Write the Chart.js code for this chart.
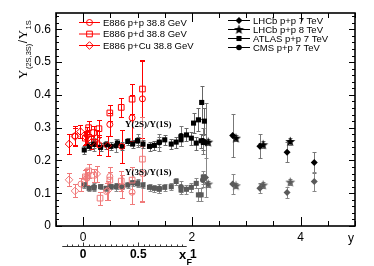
<!DOCTYPE html>
<html lang="en">
<head>
<meta charset="UTF-8">
<title>Upsilon excited-state ratios</title>
<script src="https://cdn.jsdelivr.net/npm/chart.js"></script>
<style>
  body { margin: 0; background: #fff; }
  canvas { display: block; }
</style>
</head>
<body>
<canvas id="ratioChart" width="374" height="266"></canvas>
<script>
// ---- axis ticks
const xTicks = [0, 2, 4];
const yTicks = [0, 0.1, 0.2, 0.3, 0.4, 0.5, 0.6];
const xfTicks = [0, 0.5, 1];
const Y_PER_XF = 2.026;   // rapidity units per x_F unit on the lower axis

// ---- E886 p+p 38.8 GeV (open circles)
const ppX2 = [-0.15, 0.07, 0.29, 0.49, 0.71, 0.90, 1.09];
const pp2S = [0.275, 0.278, 0.248, 0.310, 0.243, 0.330, 0.388];
const pp2SErr = [0.03, 0.025, 0.03, 0.035, 0.05, 0.07, 0.12];
const ppX3 = [-0.04, 0.07, 0.43, 0.49, 0.71, 0.90, 1.09];
const pp3S = [0.128, 0.146, 0.105, 0.151, 0.120, 0.103, 0.160];
const pp3SErr = [0.02, 0.02, 0.025, 0.03, 0.035, 0.035, 0.085];

// ---- E886 p+d 38.8 GeV (open squares)
const pdX2 = [0.04, 0.10, 0.19, 0.29, 0.49, 0.70, 0.90, 1.09];
const pd2S = [0.268, 0.300, 0.285, 0.297, 0.345, 0.362, 0.387, 0.418];
const pd2SErr = [0.02, 0.02, 0.02, 0.025, 0.025, 0.03, 0.045, 0.085];
const pdX3 = [0.04, 0.10, 0.19, 0.31, 0.49, 0.70, 0.90, 1.09];
const pd3S = [0.150, 0.168, 0.155, 0.085, 0.140, 0.137, 0.140, 0.204];
const pd3SErr = [0.02, 0.02, 0.02, 0.02, 0.025, 0.03, 0.04, 0.13];

// ---- E886 p+Cu 38.8 GeV (open diamonds)
const pcX2 = [-0.26, -0.15, -0.05, 0.05, 0.15, 0.25, 0.45];
const pc2S = [0.250, 0.273, 0.288, 0.271, 0.255, 0.268, 0.245];
const pc2SErr = [0.03, 0.025, 0.02, 0.02, 0.02, 0.025, 0.03];
const pcX3 = [-0.26, -0.15, 0.06, 0.25, 0.45];
const pc3S = [0.141, 0.107, 0.150, 0.159, 0.108];
const pc3SErr = [0.02, 0.02, 0.025, 0.025, 0.03];

// ---- LHCb p+p 7 TeV
const lhcb7X = [2.25, 2.75, 3.25, 3.75, 4.25];
const lhcb7_2S = [0.255, 0.276, 0.243, 0.225, 0.194];
const lhcb7_2SErr = [0.12, 0.065, 0.037, 0.03, 0.033];
const lhcb7_3S = [0.148, 0.128, 0.115, 0.102, 0.136];
const lhcb7_3SErr = [0.06, 0.03, 0.015, 0.018, 0.03];

// ---- LHCb p+p 8 TeV
const lhcb8X = [2.30, 2.81, 3.31, 3.81];
const lhcb8_2S = [0.256, 0.268, 0.248, 0.258];
const lhcb8_2SErr = [0.01, 0.01, 0.01, 0.012];
const lhcb8_3S = [0.128, 0.123, 0.125, 0.134];
const lhcb8_3SErr = [0.008, 0.008, 0.008, 0.01];

// ---- ATLAS p+p 7 TeV
const atlasX2 = [0.02, 0.11, 0.20, 0.32, 0.42, 0.51, 0.63, 0.72, 0.82, 0.91, 1.00, 1.10,
                 1.22, 1.31, 1.40, 1.50, 1.62, 1.71, 1.80, 1.90, 1.99, 2.08, 2.17, 2.21,
                 2.03, 2.12, 2.18, 2.23];
const atlas2S = [0.232, 0.243, 0.250, 0.240, 0.248, 0.243, 0.253, 0.243, 0.258, 0.250, 0.260, 0.250,
                 0.243, 0.246, 0.256, 0.263, 0.250, 0.256, 0.263, 0.278, 0.268, 0.253, 0.260, 0.255,
                 0.314, 0.324, 0.377, 0.320];
const atlas2SErr = [0.012, 0.012, 0.012, 0.012, 0.012, 0.012, 0.012, 0.012, 0.012, 0.013, 0.013, 0.013,
                    0.014, 0.014, 0.015, 0.015, 0.016, 0.017, 0.018, 0.02, 0.02, 0.02, 0.022, 0.022,
                    0.03, 0.035, 0.05, 0.04];
const atlasX3 = [0.02, 0.11, 0.20, 0.32, 0.42, 0.51, 0.63, 0.72, 0.82, 0.91, 1.00, 1.10,
                 1.22, 1.31, 1.40, 1.50, 1.62, 1.71, 1.80, 1.90, 1.99, 2.08, 2.12, 2.17, 2.21];
const atlas3S = [0.125, 0.115, 0.117, 0.120, 0.115, 0.120, 0.122, 0.120, 0.125, 0.132, 0.130, 0.125,
                 0.118, 0.115, 0.112, 0.118, 0.120, 0.136, 0.110, 0.112, 0.118, 0.130, 0.095, 0.095, 0.149];
const atlas3SErr = [0.008, 0.008, 0.008, 0.008, 0.008, 0.008, 0.008, 0.008, 0.009, 0.009, 0.009, 0.009,
                    0.01, 0.01, 0.01, 0.01, 0.011, 0.012, 0.012, 0.013, 0.014, 0.015, 0.02, 0.02, 0.02];

// ---- CMS p+p 7 TeV
const cmsX = [0.2, 0.6, 1.0, 1.4, 1.8, 2.2];
const cms2S = [0.250, 0.245, 0.260, 0.255, 0.275, 0.260];
const cms2SErr = [0.02, 0.02, 0.02, 0.025, 0.03, 0.04];
const cms3S = [0.120, 0.120, 0.130, 0.115, 0.120, 0.140];
const cms3SErr = [0.012, 0.012, 0.012, 0.014, 0.016, 0.02];

const leftLegend = ['E886 p+p 38.8 GeV', 'E886 p+d 38.8 GeV', 'E886 p+Cu 38.8 GeV'];
const rightLegend = ['LHCb p+p 7 TeV', 'LHCb p+p 8 TeV', 'ATLAS p+p 7 TeV', 'CMS p+p 7 TeV'];

const RED = '#ff0000', RED_LIGHT = '#f07a7a', BLACK = '#000000', GRAY = '#5a5a5a';
const SANS = '"Liberation Sans", Arial, sans-serif';
const SERIF = '"Liberation Serif", "Times New Roman", serif';

// filled five-point star used as a point style
function makeStar(color) {
  const c = document.createElement('canvas');
  c.width = 11; c.height = 11;
  const g = c.getContext('2d');
  g.fillStyle = color;
  g.beginPath();
  for (let i = 0; i < 10; i++) {
    const r = i % 2 ? 2.2 : 5.2;
    const a = -Math.PI / 2 + i * Math.PI / 5;
    g.lineTo(5.5 + r * Math.cos(a), 5.8 + r * Math.sin(a));
  }
  g.closePath();
  g.fill();
  return c;
}
const starBlack = makeStar(BLACK);
const starGray = makeStar(GRAY);

function series(label, xs, ys, errs, style) {
  return Object.assign({
    label: label,
    data: xs.map((x, i) => ({ x: x, y: ys[i] })),
    errors: errs,
    showLine: false,
    pointBorderWidth: 1
  }, style);
}

const openStyle = (shape, color, r) => ({
  pointStyle: shape, pointRadius: r, pointBorderColor: color,
  pointBackgroundColor: 'rgba(255,255,255,0)', borderColor: color, errColor: color, cap: 2.5
});
const fillStyle = (shape, color, r, errColor) => ({
  pointStyle: shape, pointRadius: r, pointBorderColor: color, pointBorderWidth: 0,
  pointBackgroundColor: color, borderColor: color, errColor: errColor, cap: 2
});

const datasets = [
  series('E886 p+p 2S', ppX2, pp2S, pp2SErr, openStyle('circle', RED, 3)),
  series('E886 p+d 2S', pdX2, pd2S, pd2SErr, openStyle('rect', RED, 4)),
  series('E886 p+Cu 2S', pcX2, pc2S, pc2SErr, openStyle('rectRot', RED, 3.8)),
  series('E886 p+p 3S', ppX3, pp3S, pp3SErr, openStyle('circle', RED_LIGHT, 3)),
  series('E886 p+d 3S', pdX3, pd3S, pd3SErr, openStyle('rect', RED_LIGHT, 4)),
  series('E886 p+Cu 3S', pcX3, pc3S, pc3SErr, openStyle('rectRot', RED_LIGHT, 3.8)),
  series('LHCb 7 2S', lhcb7X, lhcb7_2S, lhcb7_2SErr, fillStyle('rectRot', BLACK, 3.5, '#777')),
  series('LHCb 8 2S', lhcb8X, lhcb8_2S, lhcb8_2SErr, fillStyle(starBlack, BLACK, 5, '#777')),
  series('ATLAS 2S', atlasX2, atlas2S, atlas2SErr, fillStyle('rect', BLACK, 3.6, '#666')),
  series('CMS 2S', cmsX, cms2S, cms2SErr, fillStyle('circle', BLACK, 2.8, '#777')),
  series('LHCb 7 3S', lhcb7X, lhcb7_3S, lhcb7_3SErr, fillStyle('rectRot', GRAY, 3.5, '#888')),
  series('LHCb 8 3S', lhcb8X, lhcb8_3S, lhcb8_3SErr, fillStyle(starGray, GRAY, 5, '#888')),
  series('ATLAS 3S', atlasX3, atlas3S, atlas3SErr, fillStyle('rect', GRAY, 3.6, '#888')),
  series('CMS 3S', cmsX, cms3S, cms3SErr, fillStyle('circle', GRAY, 2.8, '#888'))
];

// vertical error bars with small caps, drawn under the markers
const errorBars = {
  id: 'errorBars',
  beforeDatasetsDraw(chart) {
    const { ctx, chartArea: a, scales: { x, y } } = chart;
    ctx.save();
    ctx.beginPath();
    ctx.rect(a.left, a.top, a.right - a.left, a.bottom - a.top);
    ctx.clip();
    ctx.lineWidth = 1;
    chart.data.datasets.forEach(ds => {
      ctx.strokeStyle = ds.errColor;
      ds.data.forEach((p, i) => {
        const px = Math.round(x.getPixelForValue(p.x)) + 0.5;
        const top = Math.round(y.getPixelForValue(p.y + ds.errors[i])) + 0.5;
        const bot = Math.round(y.getPixelForValue(p.y - ds.errors[i])) + 0.5;
        ctx.beginPath();
        ctx.moveTo(px, top); ctx.lineTo(px, bot);
        ctx.moveTo(px - ds.cap, top); ctx.lineTo(px + ds.cap, top);
        ctx.moveTo(px - ds.cap, bot); ctx.lineTo(px + ds.cap, bot);
        ctx.stroke();
      });
    });
    ctx.restore();
  }
};

function drawMarker(ctx, ds, cx, cy) {
  ctx.save();
  ctx.strokeStyle = ds.pointBorderColor;
  ctx.fillStyle = ds.pointBackgroundColor;
  ctx.lineWidth = ds.pointBorderWidth;
  Chart.helpers.drawPoint(ctx, {
    pointStyle: ds.pointStyle, radius: ds.pointRadius, rotation: 0, borderWidth: ds.pointBorderWidth
  }, cx, cy);
  ctx.restore();
}

// frame, inward ticks, x_F axis, titles, annotations and legends
const decorations = {
  id: 'decorations',
  afterDraw(chart) {
    const { ctx, chartArea: a, scales: { x, y, xf } } = chart;
    ctx.save();
    ctx.strokeStyle = '#000';
    ctx.lineWidth = 1;
    // y ticks on both sides
    for (let k = 0; k <= 32; k++) {
      const v = k * 0.02;
      const py = Math.round(y.getPixelForValue(v)) + 0.5;
      const len = k % 5 === 0 ? 6 : 3;
      ctx.beginPath();
      ctx.moveTo(a.left, py); ctx.lineTo(a.left + len, py);
      ctx.moveTo(a.right, py); ctx.lineTo(a.right - len, py);
      ctx.stroke();
    }
    // x ticks top and bottom
    for (let k = -1; k <= 10; k++) {
      const v = k * 0.5;
      const px = Math.round(x.getPixelForValue(v)) + 0.5;
      const len = k % 4 === 0 ? 9 : 5;
      ctx.beginPath();
      ctx.moveTo(px, a.bottom); ctx.lineTo(px, a.bottom - len);
      ctx.moveTo(px, a.top); ctx.lineTo(px, a.top + len);
      ctx.stroke();
    }
    // frame
    ctx.lineWidth = 1.6;
    ctx.strokeRect(a.left, a.top, a.right - a.left, a.bottom - a.top);

    // lower x_F axis
    const ly = Math.round(xf.top + 1.5) + 0.5;
    ctx.lineWidth = 1;
    ctx.strokeStyle = '#333';
    ctx.beginPath();
    ctx.moveTo(xf.getPixelForValue(-0.19), ly);
    ctx.lineTo(xf.getPixelForValue(0.94), ly);
    ctx.stroke();
    for (let k = -3; k <= 18; k++) {
      const v = k * 0.05;
      const px = Math.round(xf.getPixelForValue(v)) + 0.5;
      const len = k % 10 === 0 ? 4 : 2;
      ctx.beginPath();
      ctx.moveTo(px, ly); ctx.lineTo(px, ly - len);
      ctx.stroke();
    }
    ctx.fillStyle = '#000';
    ctx.textBaseline = 'alphabetic';
    ctx.textAlign = 'left';
    ctx.font = 'bold 13px ' + SANS;
    ctx.fillText('x', 179, 259);
    ctx.font = 'bold 9px ' + SANS;
    ctx.fillText('F', 186.5, 265);

    // x axis title
    ctx.font = '12px ' + SANS;
    ctx.fillText('y', 348, 242);

    // y axis title, rotated
    ctx.save();
    ctx.translate(27, 79);
    ctx.rotate(-Math.PI / 2);
    const parts = [
      { t: 'Υ', f: '13px ' + SERIF, dy: 0 },
      { t: '(2S,3S)', f: '7.5px ' + SANS, dy: 4 },
      { t: '/', f: '12px ' + SANS, dy: 0 },
      { t: 'Υ', f: '13px ' + SERIF, dy: 0 },
      { t: '1S', f: '7.5px ' + SANS, dy: 4 }
    ];
    let tx = 0;
    parts.forEach(p => {
      ctx.font = p.f;
      ctx.fillText(p.t, tx, p.dy);
      tx += ctx.measureText(p.t).width + 0.5;
    });
    ctx.restore();

    // state annotations
    ctx.font = 'bold 9px ' + SERIF;
    ctx.textBaseline = 'middle';
    ctx.fillText('Υ(2S)/Υ(1S)', x.getPixelForValue(0.77), y.getPixelForValue(0.309));
    ctx.fillText('Υ(3S)/Υ(1S)', x.getPixelForValue(0.77), y.getPixelForValue(0.162));

    // legends
    ctx.font = '9.5px ' + SANS;
    const legendRow = (ds, x0, x1, yy, text, color) => {
      ctx.strokeStyle = color;
      ctx.lineWidth = 1;
      ctx.beginPath();
      ctx.moveTo(x0, yy + 0.5); ctx.lineTo(x1, yy + 0.5);
      ctx.stroke();
      drawMarker(ctx, ds, (x0 + x1) / 2, yy + 0.5);
      ctx.fillStyle = '#000';
      ctx.fillText(text, x1 + 3, yy + 1);
    };
    [0, 1, 2].forEach(i => legendRow(datasets[i], 79, 100, 22 + i * 11.5, leftLegend[i], RED));
    [6, 7, 8, 9].forEach((d, i) => legendRow(datasets[d], 228, 250, 20 + i * 9, rightLegend[i], BLACK));
    ctx.restore();
  }
};

new Chart(document.getElementById('ratioChart'), {
  type: 'scatter',
  data: { datasets: datasets },
  options: {
    responsive: false,
    animation: false,
    events: [],
    layout: { padding: { left: 0, right: 19, top: 13, bottom: 0 } },
    plugins: { legend: { display: false }, tooltip: { enabled: false } },
    scales: {
      x: {
        type: 'linear', position: 'bottom', weight: 0, min: -0.5, max: 5,
        grid: { display: false, drawTicks: false }, border: { display: false },
        ticks: { color: '#000', font: { family: SANS, size: 12 }, padding: 4, maxRotation: 0,
                 callback: v => String(v) },
        afterBuildTicks: s => { s.ticks = xTicks.map(v => ({ value: v })); },
        afterFit: s => { s.height = 18; }
      },
      xf: {
        type: 'linear', position: 'bottom', weight: 1,
        min: -0.5 / Y_PER_XF, max: 5 / Y_PER_XF,
        grid: { display: false, drawTicks: false }, border: { display: false },
        ticks: { color: '#000', font: { family: SANS, size: 12, weight: 'bold' }, padding: 3, maxRotation: 0,
                 callback: v => String(v) },
        afterBuildTicks: s => { s.ticks = xfTicks.map(v => ({ value: v })); },
        afterFit: s => { s.height = 22; }
      },
      y: {
        type: 'linear', position: 'left', min: 0, max: 0.65,
        grid: { display: false, drawTicks: false }, border: { display: false },
        ticks: { color: '#000', font: { family: SANS, size: 12 }, padding: 5,
                 callback: v => (v === 0 ? '0' : v.toFixed(1)) },
        afterBuildTicks: s => { s.ticks = yTicks.map(v => ({ value: v })); },
        afterFit: s => { s.width = 56; }
      }
    }
  },
  plugins: [errorBars, decorations]
});
</script>
</body>
</html>
